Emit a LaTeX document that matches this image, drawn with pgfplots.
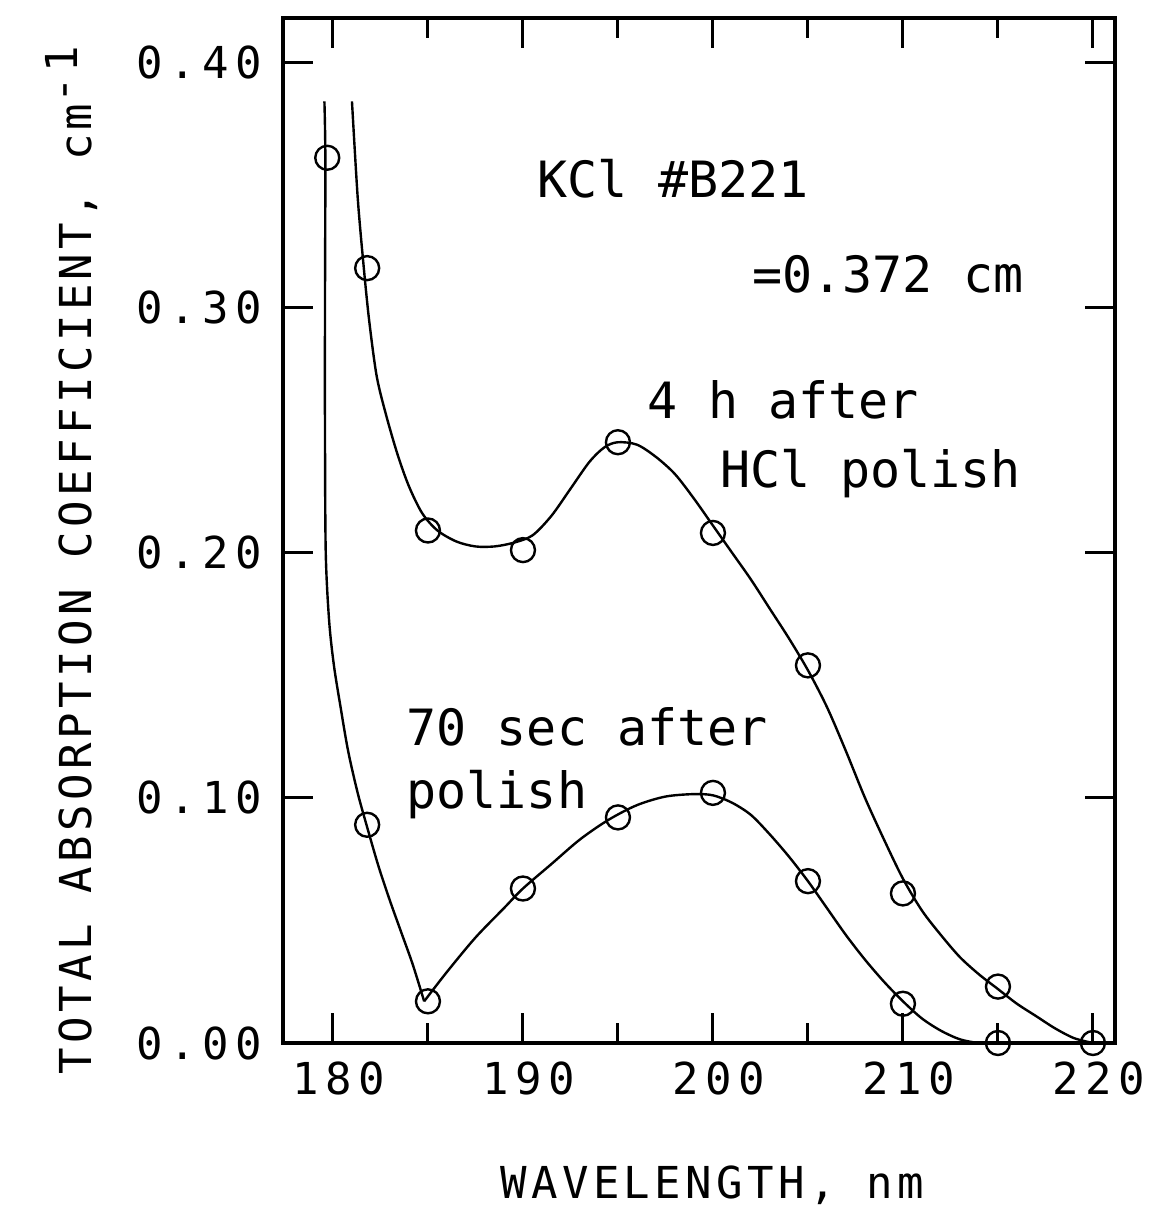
\documentclass[border=0pt]{standalone}
\usepackage{fontspec}
\usepackage{pgfplots}
\pgfplotsset{compat=1.18}
\newfontfamily\monofam{DejaVu Sans Mono}
\newfontfamily\tickfam[LetterSpace=15]{DejaVu Sans Mono}
\newfontfamily\labfam[LetterSpace=10]{DejaVu Sans Mono}
\newcommand{\annot}{\monofam\fontsize{25pt}{30pt}\selectfont}
\newcommand{\tickfont}{\tickfam\fontsize{22pt}{26pt}\selectfont}
\newcommand{\labfont}{\labfam\fontsize{22pt}{26pt}\selectfont}
\begin{document}
\begin{tikzpicture}
\useasboundingbox (-141.5pt,-89.5pt) rectangle (435pt,521.5pt);
\begin{axis}[
  at={(0pt,0pt)}, anchor=south west,
  width=416pt, height=512.5pt, scale only axis,
  xmin=177.37, xmax=221.16, ymin=0, ymax=0.418,
  clip=false,
  axis line style={line width=2pt},
  tick align=inside,
  major tick length=15pt, minor tick length=10pt,
  every tick/.style={black, line width=1.5pt},
  xtick={180,190,200,210,220},
  minor xtick={185,195,205,215},
  ytick={0,0.1,0.2,0.3,0.4},
  yticklabels={0.00,0.10,0.20,0.30,0.40},
  xticklabels={180,190,200,210,220},
  xticklabel style={font=\tickfont, yshift=-6pt, xshift=3pt},
  yticklabel style={font=\tickfont, xshift=-7pt},
  /pgf/number format/assume math mode=true,
]
% curves
\addplot[black, line width=1.2pt, smooth] coordinates {
(181.0,0.384) (181.3,0.345) (181.6,0.318) (181.9,0.295) (182.3,0.272)
(182.8,0.256) (183.4,0.240) (184.0,0.227) (184.7,0.216) (185.5,0.209)
(186.5,0.2045) (187.5,0.2025) (188.5,0.2025) (189.5,0.204) (190.5,0.207)
(191.5,0.215) (192.5,0.226) (193.5,0.237) (194.3,0.243) (195,0.245)
(196,0.244) (197,0.239) (198,0.232) (199,0.222) (200,0.211)
(201,0.200) (202,0.189) (203,0.177) (204,0.165) (205,0.152)
(206,0.137) (207,0.119) (208,0.100) (209,0.083) (210,0.067)
(211,0.054) (212,0.044) (213,0.035) (214,0.028) (215,0.022)
(216,0.016) (217,0.011) (218,0.006) (219,0.002) (220,0.0)
};
\addplot[black, line width=1.2pt, smooth] coordinates {
(179.55,0.384) (179.6,0.36) (179.58,0.30) (179.58,0.25) (179.62,0.20)
(179.8,0.172) (180.05,0.154) (180.4,0.137) (180.8,0.119) (181.3,0.102)
(181.8,0.088) (182.4,0.072) (183.0,0.058) (183.6,0.045) (184.2,0.032)
(184.8,0.017)
};
\addplot[black, line width=1.2pt, smooth] coordinates {
(184.8,0.017) (186,0.029) (187.5,0.043) (189,0.055) (190,0.063)
(191.5,0.073) (193,0.083) (194.5,0.091) (196,0.097) (197.5,0.1005)
(199,0.1015) (200,0.101) (201,0.098) (202,0.093) (203,0.085)
(204,0.076) (205,0.066) (206,0.055) (207,0.044) (208,0.034)
(209,0.025) (210,0.017) (211,0.010) (212,0.005) (213,0.0015)
(214,0.0) (215,0.0)
};
% data points
\addplot[only marks, mark=o, mark size=6pt, mark options={line width=1.2pt, fill=white, draw=black}] coordinates {
(181.8,0.316) (185,0.209) (190,0.201) (195,0.245) (200,0.208)
(205,0.154) (210,0.061) (215,0.023) (220,0.0)
};
\addplot[only marks, mark=o, mark size=6pt, mark options={line width=1.2pt, fill=white, draw=black}] coordinates {
(179.7,0.361) (181.8,0.089) (185,0.017) (190,0.063) (195,0.092)
(200,0.102) (205,0.066) (210,0.016) (215,0.0)
};
% annotations
\node[anchor=base west, font=\annot] at (axis cs:190.4,0.345) {KCl \#B221};
\node[anchor=base west, font=\annot] at (axis cs:201.7,0.306) {=0.372 cm};
\node[anchor=base west, font=\annot] at (axis cs:196.2,0.2547) {4 h after};
\node[anchor=base west, font=\annot] at (axis cs:200.0,0.2265) {HCl polish};
\node[anchor=base west, font=\annot] at (axis cs:183.5,0.1212) {70 sec after};
\node[anchor=base west, font=\annot] at (axis cs:183.5,0.0955) {polish};
% axis labels
\node[rotate=90, anchor=center, font=\labfont] at (axis description cs:-0.2536,0.471)
  {TOTAL ABSORPTION COEFFICIENT, cm\raisebox{7pt}{-1}};
\node[anchor=center, font=\labfont] at (axis description cs:0.516,-0.1385)
  {WAVELENGTH, nm};
\end{axis}
\end{tikzpicture}
\end{document}
